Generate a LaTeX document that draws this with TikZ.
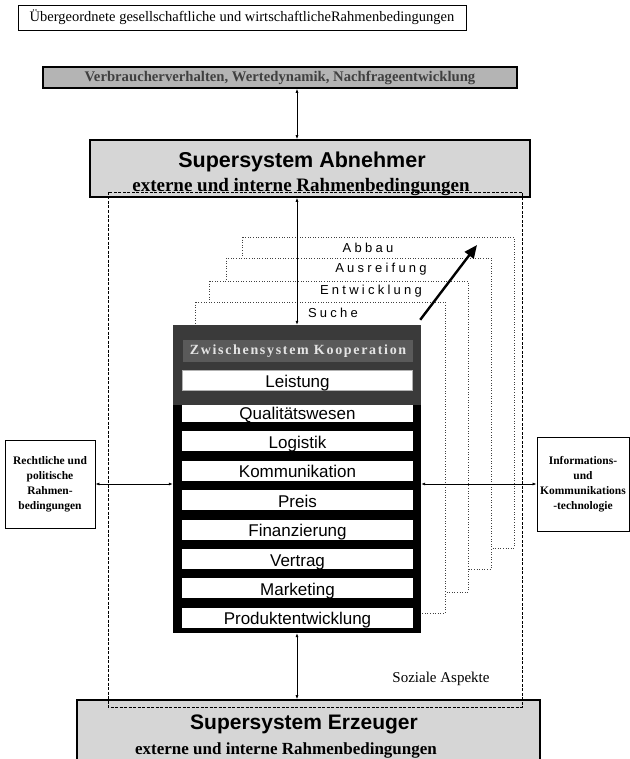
\documentclass[tikz,border=0pt]{standalone}
\usepackage{fontspec}
\setmainfont{Liberation Serif}
\setsansfont{Liberation Sans}
\newfontfamily\phasefont[LetterSpace=25]{Liberation Sans}
\newfontfamily\platefont[LetterSpace=12]{Liberation Serif}
\usetikzlibrary{arrows.meta, positioning, calc}
\definecolor{supercolor}{RGB}{214,214,214}
\definecolor{consumercolor}{RGB}{180,180,180}
\definecolor{headcolor}{RGB}{58,58,58}
\definecolor{platecolor}{RGB}{90,90,90}
\definecolor{platetext}{RGB}{228,228,228}
\tikzset{
    frame/.style={rectangle, draw=black, line width=0.9pt, inner sep=0pt, align=center},
    superbox/.style={rectangle, draw=black, line width=1.6pt, fill=supercolor,
        inner sep=0pt, align=center},
    supertitle/.style={inner sep=0pt, font=\sffamily\bfseries\fontsize{21.5}{21.5}\selectfont},
    supersub/.style={inner sep=0pt, font=\bfseries\fontsize{19}{19}\selectfont},
    row/.style={rectangle, fill=white, inner xsep=0pt, inner ysep=3pt, minimum width=231pt,
        text height=14pt, text depth=0pt, font=\sffamily\fontsize{17}{17}\selectfont},
    phasebox/.style={draw=black!75, dotted, line width=0.6pt, fill=white},
    phaselabel/.style={inner sep=0pt, font=\phasefont\fontsize{13}{13}\selectfont},
    sidebox/.style={rectangle, draw=black, line width=0.9pt, inner sep=0pt, align=center,
        font=\bfseries\fontsize{11.5}{15}\selectfont},
    conn/.style={{Latex[length=4pt,width=3pt]}-{Latex[length=4pt,width=3pt]}, line width=0.7pt},
    bigarrow/.style={-{Triangle[length=13pt,width=11pt]}, line width=2.4pt},
    social/.style={dashed, dash pattern=on 3pt off 1.5pt, line width=0.7pt}
}

\begin{document}
\begin{tikzpicture}[x=1pt, y=-1pt]
    \useasboundingbox (0,0) rectangle (629,759);

    % outer frame and supersystems
    \node[frame, minimum width=448pt, minimum height=25pt, font=\fontsize{14.5}{14.5}\selectfont]
        (top) at (242,17.5) {Übergeordnete gesellschaftliche und wirtschaftlicheRahmenbedingungen};
    \node[superbox, fill=consumercolor, minimum width=474pt, minimum height=21pt,
        text=black!75, font=\bfseries\fontsize{14.7}{14.7}\selectfont]
        (vb) at (280,77.5) {Verbraucherverhalten, Wertedynamik, Nachfrageentwicklung};
    \node[superbox, minimum width=440pt, minimum height=57pt] (abn) at (310,168.5) {};
    \node[supertitle, anchor=base] (abntitle) at (302,168) {Supersystem Abnehmer};
    \node[supersub, anchor=base] (abnsub) at (301,191.5) {externe und interne Rahmenbedingungen};
    \node[superbox, minimum width=463pt, minimum height=66pt] (erz) at (308.5,733) {};
    \node[supertitle, font=\sffamily\bfseries\fontsize{21}{21}\selectfont, anchor=base]
        (erztitle) at (304,729) {Supersystem Erzeuger};
    \node[supersub, font=\bfseries\fontsize{17}{17}\selectfont, anchor=base]
        (erzsub) at (286,754) {externe und interne Rahmenbedingungen};

    \draw[social] (108,192) rectangle (522,707);

    % life cycle phases
    \draw[phasebox] (242,237) rectangle (514,548);
    \draw[phasebox] (226,258) rectangle (491,569);
    \draw[phasebox] (209,281) rectangle (468,592);
    \draw[phasebox] (195,302) rectangle (445,613);
    \node[phaselabel] (abbau) at (368,248) {Abbau};
    \node[phaselabel] (reife) at (381,269) {Ausreifung};
    \node[phaselabel] (entw) at (371,291) {Entwicklung};
    \node[phaselabel] (suche) at (333,313) {Suche};

    % Zwischensystem
    \node[fill=black, minimum width=248pt, minimum height=308pt, inner sep=0pt] (zwi) at (297,479) {};
    \node[row] (qual) at (297.5,412) {Qualitätswesen};
    \node[row, below=9pt of qual] (log) {Logistik};
    \node[row, below=9pt of log] (komm) {Kommunikation};
    \node[row, below=9pt of komm] (preis) {Preis};
    \node[row, below=9pt of preis] (fin) {Finanzierung};
    \node[row, below=9pt of fin] (vert) {Vertrag};
    \node[row, below=9pt of vert] (mark) {Marketing};
    \node[row, below=9pt of mark] (prod) {Produktentwicklung};
    \node[fill=headcolor, minimum width=248pt, minimum height=80pt, inner sep=0pt, anchor=north]
        (head) at (zwi.north) {};
    \node[fill=platecolor, minimum width=230pt, minimum height=22pt, inner sep=0pt, text=platetext,
        font=\platefont\bfseries\fontsize{14}{14}\selectfont] (plate) at (298,351) {Zwischensystem Kooperation};
    \node[row, draw=black!30, line width=0.4pt, minimum width=230pt] (leist) at (297.5,380) {Leistung};

    % environment
    \node[sidebox, minimum width=90pt, minimum height=88pt] (recht) at (50,484)
        {Rechtliche und\\politische\\Rahmen-\\bedingungen};
    \node[sidebox, minimum width=92pt, minimum height=94pt] (info) at (583,484)
        {Informations-\\und\\Kommunikations\\-technologie};
    \node[inner sep=0pt, font=\fontsize{15}{15}\selectfont] (sozial) at (441,679) {Soziale Aspekte};

    \draw[conn] (vb.south -| zwi.north) -- (abn.north -| zwi.north);
    \draw[conn] (abn.south -| zwi.north) -- (zwi.north);
    \draw[conn] (zwi.south) -- (erz.north -| zwi.south);
    \draw[conn] (recht.east) -- (recht.east -| zwi.west);
    \draw[conn] (info.west -| zwi.east) -- (info.west);

    \coordinate (trend) at (477,245);
    \draw[bigarrow] ($(zwi.north east)+(-1,-5)$) -- (trend);

\end{tikzpicture}
\end{document}
